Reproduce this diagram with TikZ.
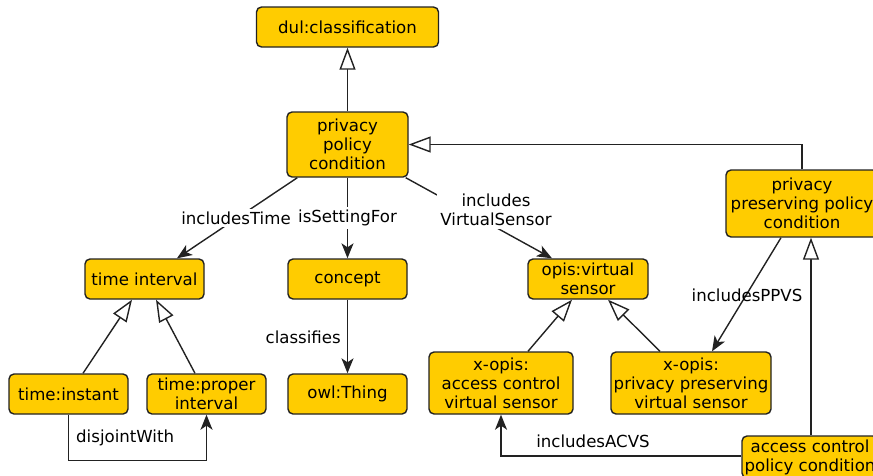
\documentclass[tikz,border=0pt]{standalone}
\usepackage{fontspec}
\setmainfont{DejaVu Sans}
\usetikzlibrary{arrows.meta,calc}
\definecolor{boxfill}{HTML}{FFCC00}
\definecolor{ink}{HTML}{222222}
\tikzset{
  box/.style={draw=ink, fill=boxfill, rounded corners=5pt, line width=1.4pt, align=center, inner sep=0pt, text=black},
  lbl/.style={align=center, inner sep=3pt, text=black},
  conn/.style={draw=ink, line width=1.4pt},
  isa/.style={conn, -{Triangle[length=22pt,width=16pt,fill=white,line width=1.4pt]}},
  rel/.style={conn, -{Stealth[length=15pt,width=12pt,inset=4pt]}},
}
\begin{document}
\begin{tikzpicture}[x=1pt,y=-1pt,font=\fontsize{16.6}{19}\selectfont]
\useasboundingbox (0,0) rectangle (873,475);
\clip (0,0) rectangle (873,475);
% nodes
\node[box, minimum width=182pt, minimum height=40pt] (dul) at (347.5,27) {dul:classification};
\node[box, minimum width=121pt, minimum height=65pt] (ppc) at (347.5,144.5) {privacy\\policy\\condition};
\node[box, minimum width=152pt, minimum height=67pt] (pppc) at (802,203.5) {privacy\\preserving policy\\condition};
\node[box, minimum width=119pt, minimum height=40pt] (ti) at (144.5,279) {time interval};
\node[box, minimum width=119pt, minimum height=40pt] (concept) at (347.5,279) {concept};
\node[box, minimum width=120pt, minimum height=40pt] (opis) at (588,279) {opis:virtual\\sensor};
\node[box, minimum width=119pt, minimum height=40pt] (tinst) at (68.5,394) {time:instant};
\node[box, minimum width=119pt, minimum height=40pt] (tprop) at (206.5,394) {time:proper\\interval};
\node[box, minimum width=119pt, minimum height=40pt] (owl) at (347.5,394) {owl:Thing};
\node[box, minimum width=144pt, minimum height=62pt] (acvs) at (501,383) {x-opis:\\access control\\virtual sensor};
\node[box, minimum width=160pt, minimum height=62pt] (ppvs) at (691,383) {x-opis:\\privacy preserving\\virtual sensor};
\node[box, minimum width=136pt, minimum height=42pt] (acpc) at (810,457) {access control\\policy condition};
% generalisations
\draw[isa] (ppc.north) -- (dul.south);
\draw[isa] (pppc.north) |- (ppc.east);
\draw[isa] ($(acpc.north)+(1,0)$) -- ($(pppc.south)+(9,0)$);
\draw[isa] ($(tinst.north)+(14.5,0)$) -- ($(ti.south)+(-12.5,0)$);
\draw[isa] ($(tprop.north)+(-11.5,0)$) -- ($(ti.south)+(11.5,0)$);
\draw[isa] ($(acvs.north)+(27,0)$) -- ($(opis.south)+(-16,0)$);
\draw[isa] ($(ppvs.north)+(-31,0)$) -- ($(opis.south)+(20,0)$);
% relations
\draw[rel] ($(ppc.south west)+(11,0)$) -- ($(ti.north)+(32.5,0)$);
\draw[rel] (ppc.south) -- (concept.north);
\draw[rel] ($(ppc.south east)+(-3,0)$) -- ($(opis.north)+(-36,0)$);
\draw[rel] (concept.south) -- (owl.north);
\draw[rel] (tinst.south) -- ++(0,46) coordinate (dj) -| (tprop.south);
\draw[rel] ($(pppc.south)+(-21,0)$) -- ($(ppvs.north)+(21,0)$);
\draw[rel] (acpc.west |- 0,456) -| (acvs.south);
% labels
\node[lbl, fill=white] (l1) at (236,218) {includesTime};
\node[lbl, fill=white] (l2) at (347.5,218) {isSettingFor};
\node[lbl, fill=white] (l3) at (496,210) {includes\\VirtualSensor};
\node[lbl, anchor=east] (l4) at (344,337) {classifies};
\node[lbl, anchor=west] (l5) at (73,438) {disjointWith};
\node[lbl] (l6) at (747,295) {includesPPVS};
\node[lbl] (l7) at (593,441) {includesACVS};
\end{tikzpicture}
\end{document}
